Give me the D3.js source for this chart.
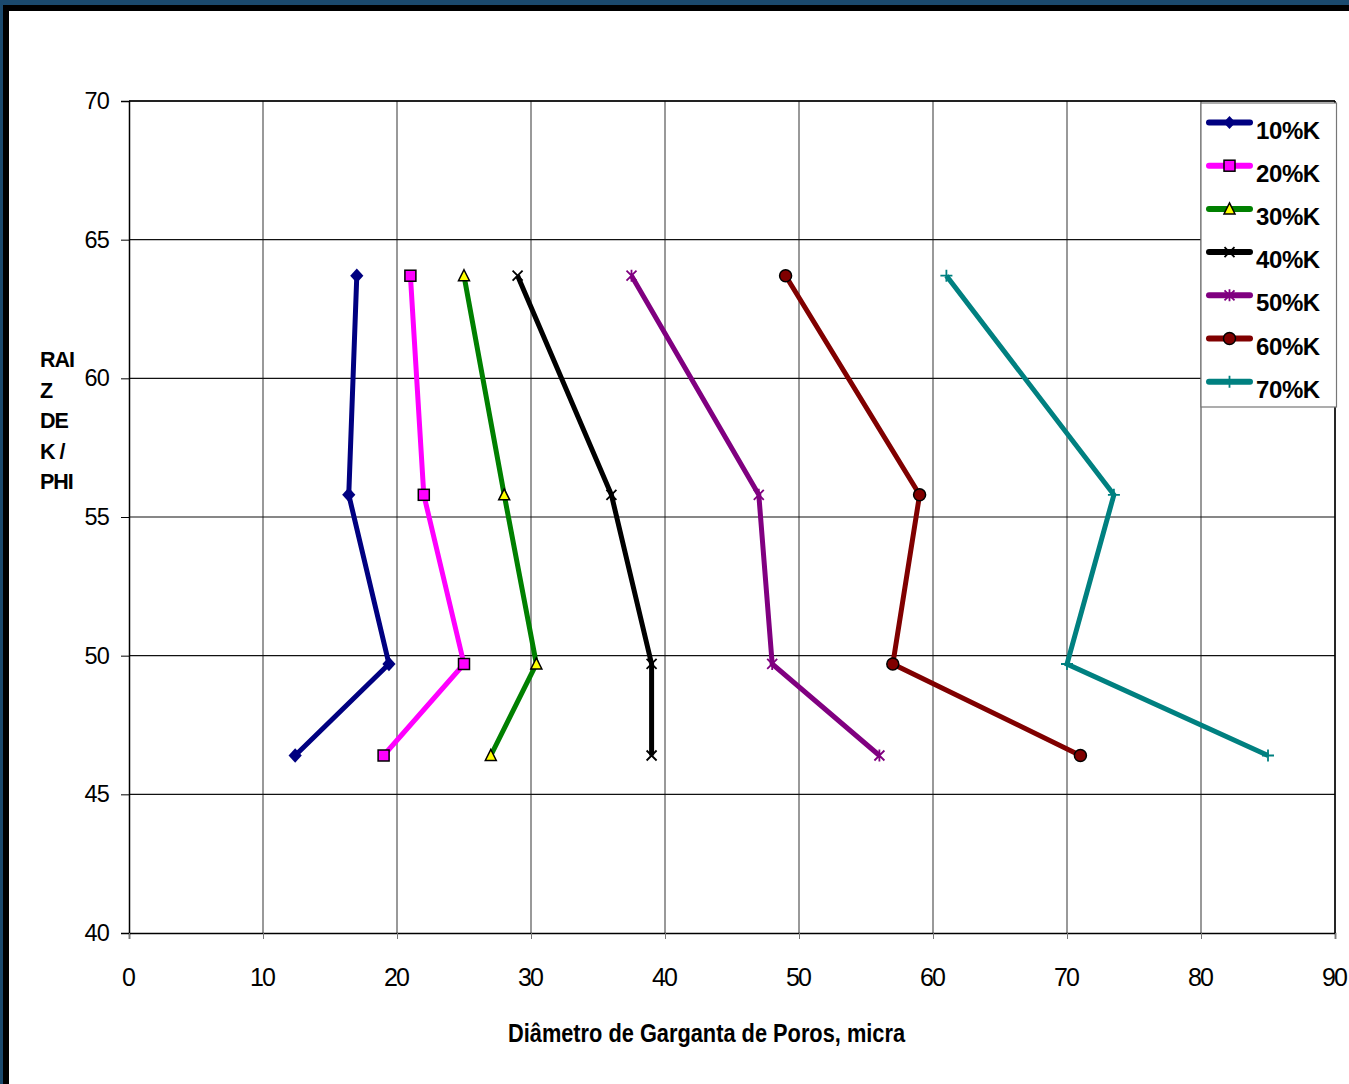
<!DOCTYPE html>
<html>
<head>
<meta charset="utf-8">
<script src="https://cdn.jsdelivr.net/npm/d3@7"></script>
<style>
  html, body { margin: 0; padding: 0; background: #fff; }
  svg { display: block; font-family: "Liberation Sans", Arial, sans-serif; }
</style>
</head>
<body>
<svg id="chart" width="1349" height="1084"></svg>
<script>
// Depth levels (RAIZ DE K/PHI) shared by every curve
const depthLevels = [63.7, 55.8, 49.7, 46.4];

// Pore-throat diameter (micra) per permeability fraction
const seriesNames = ["10%K", "20%K", "30%K", "40%K", "50%K", "60%K", "70%K"];
const k10 = [17.0, 16.4, 19.4, 12.4];
const k20 = [21.0, 22.0, 25.0, 19.0];
const k30 = [25.0, 28.0, 30.4, 27.0];
const k40 = [29.0, 36.0, 39.0, 39.0];
const k50 = [37.5, 47.0, 48.0, 56.0];
const k60 = [49.0, 59.0, 57.0, 71.0];
const k70 = [61.0, 73.5, 70.0, 85.0];

const xTicks = [0, 10, 20, 30, 40, 50, 60, 70, 80, 90];
const yTicks = [40, 45, 50, 55, 60, 65, 70];

const xTitle = "Diâmetro de Garganta de Poros, micra";
const yTitleLines = ["RAI", "Z", "DE", "K /", "PHI"];

const styles = [
  { color: "#000080", marker: "diamond" },
  { color: "#FF00FF", marker: "square" },
  { color: "#008000", marker: "triangle" },
  { color: "#000000", marker: "cross" },
  { color: "#800080", marker: "star" },
  { color: "#800000", marker: "circle" },
  { color: "#008080", marker: "plus" }
];

const seriesValues = [k10, k20, k30, k40, k50, k60, k70];
const series = seriesNames.map((name, i) => ({
  name,
  style: styles[i],
  points: seriesValues[i].map((x, j) => ({ x, y: depthLevels[j] }))
}));

const svg = d3.select("#chart");
const W = 1349, H = 1084;

// Window frame
svg.append("rect").attr("x", 0).attr("y", 0).attr("width", W).attr("height", H).attr("fill", "#fff");
svg.append("rect").attr("x", 0).attr("y", 0).attr("width", W).attr("height", 11).attr("fill", "#000");
svg.append("rect").attr("x", 0).attr("y", 0).attr("width", 9).attr("height", H).attr("fill", "#000");
svg.append("rect").attr("x", 0).attr("y", 0).attr("width", W).attr("height", 5).attr("fill", "#1b4a6e");
svg.append("rect").attr("x", 0).attr("y", 0).attr("width", 3).attr("height", H).attr("fill", "#1b4a6e");

const plot = { left: 129, right: 1335, top: 101, bottom: 933 };

const x = d3.scaleLinear().domain([0, 90]).range([plot.left, plot.right]);
const y = d3.scaleLinear().domain([40, 70]).range([plot.bottom, plot.top]);

// Gridlines
const grid = svg.append("g");
grid.selectAll("line.gx").data(xTicks.slice(1)).join("line")
  .attr("x1", d => x(d)).attr("x2", d => x(d))
  .attr("y1", plot.top).attr("y2", plot.bottom)
  .attr("stroke", "#555").attr("stroke-width", 1.2);
grid.selectAll("line.gy").data(yTicks.slice(1)).join("line")
  .attr("x1", plot.left).attr("x2", plot.right)
  .attr("y1", d => y(d)).attr("y2", d => y(d))
  .attr("stroke", "#111").attr("stroke-width", 1.2);

// Axes
const yAxis = d3.axisLeft(y).tickValues(yTicks).tickSize(8).tickPadding(12).tickFormat(d3.format("d"));
const gy = svg.append("g").attr("transform", `translate(${plot.left},0)`).call(yAxis);
gy.select(".domain").attr("stroke", "#000").attr("stroke-width", 1.5);
gy.selectAll(".tick line").attr("stroke", "#000");
gy.selectAll(".tick text").attr("font-size", 23.5).attr("letter-spacing", -0.8).attr("fill", "#000")
  .attr("font-family", "Liberation Sans, Arial, sans-serif");

const xAxis = d3.axisBottom(x).tickValues(xTicks).tickSize(6).tickPadding(47).tickFormat(d3.format("d"));
const gx = svg.append("g").attr("transform", `translate(0,${plot.bottom})`).call(xAxis);
gx.select(".domain").attr("stroke", "#000").attr("stroke-width", 1.5);
gx.selectAll(".tick line").attr("stroke", "#777");
gx.selectAll(".tick text").attr("font-size", 25).attr("letter-spacing", -2).attr("fill", "#000")
  .attr("dy", "0").attr("dx", -1.5).attr("font-family", "Liberation Sans, Arial, sans-serif");

// Plot border (top and right)
svg.append("line").attr("x1", plot.left).attr("x2", plot.right).attr("y1", plot.top).attr("y2", plot.top)
  .attr("stroke", "#000").attr("stroke-width", 1.5);
svg.append("line").attr("x1", plot.right).attr("x2", plot.right).attr("y1", plot.top).attr("y2", plot.bottom)
  .attr("stroke", "#000").attr("stroke-width", 1.5);

// Axis titles
svg.append("text").attr("x", 508).attr("y", 1041.5)
  .attr("font-size", 26.5).attr("font-weight", "bold")
  .attr("textLength", 397).attr("lengthAdjust", "spacingAndGlyphs")
  .text(xTitle);
const yt = svg.append("text").attr("font-size", 21.5).attr("font-weight", "bold").attr("letter-spacing", -1);
yTitleLines.forEach((t, i) => {
  yt.append("tspan").attr("x", 40).attr("y", 367 + i * 30.5).text(t);
});

// Marker drawing
function drawMarker(g, type, color, size) {
  const s = size;
  switch (type) {
    case "diamond":
      g.append("path").attr("d", `M0,${-s * 0.6}L${s * 0.55},0L0,${s * 0.6}L${-s * 0.55},0Z`).attr("fill", color);
      break;
    case "square":
      g.append("rect").attr("x", -5.5).attr("y", -5.5).attr("width", 11).attr("height", 11)
        .attr("fill", color).attr("stroke", "#000").attr("stroke-width", 1.5);
      break;
    case "triangle":
      g.append("path").attr("d", "M0,-6L5.5,5L-5.5,5Z")
        .attr("fill", "#FFFF00").attr("stroke", "#000").attr("stroke-width", 1.5);
      break;
    case "cross":
      g.append("path").attr("d", "M-5,-5L5,5M-5,5L5,-5").attr("stroke", color).attr("stroke-width", 1.8);
      break;
    case "star":
      g.append("path").attr("d", "M-5,-5L5,5M-5,5L5,-5M0,-6L0,6").attr("stroke", color).attr("stroke-width", 1.8);
      break;
    case "circle":
      g.append("circle").attr("r", 6).attr("fill", color).attr("stroke", "#000").attr("stroke-width", 1.5);
      break;
    case "plus":
      g.append("path").attr("d", "M-6,0L6,0M0,-6L0,6").attr("stroke", color).attr("stroke-width", 1.8);
      break;
  }
}

// Series lines + markers
const line = d3.line().x(d => x(d.x)).y(d => y(d.y));
const sg = svg.append("g");
series.forEach(s => {
  sg.append("path").datum(s.points).attr("d", line)
    .attr("fill", "none").attr("stroke", s.style.color).attr("stroke-width", 5)
    .attr("stroke-linejoin", "miter");
  s.points.forEach(p => {
    const m = sg.append("g").attr("transform", `translate(${x(p.x)},${y(p.y)})`);
    drawMarker(m, s.style.marker, s.style.color, 12);
  });
});

// Legend
const lg = svg.append("g");
lg.append("rect").attr("x", 1201).attr("y", 103).attr("width", 135.5).attr("height", 304)
  .attr("fill", "#fff").attr("stroke", "#777").attr("stroke-width", 1.2);
series.forEach((s, i) => {
  const cy = 122.5 + i * 43.2;
  lg.append("line").attr("x1", 1209).attr("x2", 1250).attr("y1", cy).attr("y2", cy)
    .attr("stroke", s.style.color).attr("stroke-width", 6).attr("stroke-linecap", "round");
  const m = lg.append("g").attr("transform", `translate(1229.5,${cy})`);
  drawMarker(m, s.style.marker, s.style.color, 11);
  lg.append("text").attr("x", 1256).attr("y", cy + 16).attr("font-size", 24)
    .attr("font-weight", "bold").attr("letter-spacing", -0.4).text(s.name);
});
</script>
</body>
</html>
